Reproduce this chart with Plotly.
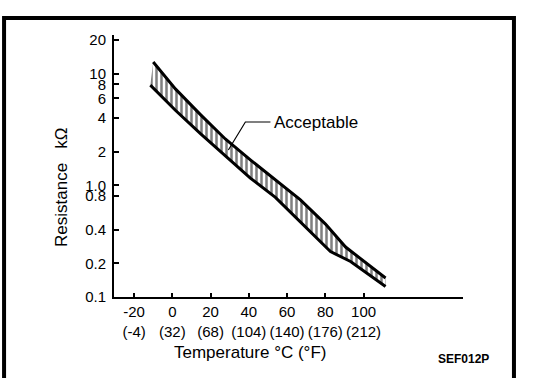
import numpy as np
import plotly.graph_objects as go

# Data
upper_temp = [-10, 1.6, 14.7, 27.7, 40.8, 53.9, 67, 80.1, 90.6, 111.5]
upper_res = [12.7, 7.3, 4.3, 2.6, 1.69, 1.12, 0.74, 0.45, 0.28, 0.148]
lower_temp = [-11.5, 1.6, 14.7, 27.7, 40.8, 53.9, 67, 82.7, 93.2, 111.5]
lower_res = [7.9, 4.7, 2.9, 1.82, 1.16, 0.78, 0.47, 0.255, 0.208, 0.124]

x_tickvals = [-20, 0, 20, 40, 60, 80, 100]
x_ticktext = ["-20<br>(-4)", "0<br>(32)", "20<br>(68)", "40<br>(104)",
              "60<br>(140)", "80<br>(176)", "100<br>(212)"]
y_tickvals = [0.1, 0.2, 0.4, 0.8, 1.0, 2, 4, 6, 8, 10, 20]
y_ticktext = ["0.1", "0.2", "0.4", "0.8", "1.0", "2", "4", "6", "8", "10", "20"]

leader_temp = [29.3, 38.2, 51.3]
leader_res = [2.07, 3.69, 3.69]

FONT = "Liberation Sans, Arial, sans-serif"

fig = go.Figure()
fig.add_trace(go.Scatter(x=lower_temp, y=lower_res, mode="lines",
                         line=dict(color="black", width=3), showlegend=False,
                         hoverinfo="skip"))
fig.add_trace(go.Scatter(x=upper_temp, y=upper_res, mode="lines",
                         line=dict(color="black", width=3), showlegend=False,
                         fill="tonexty", fillcolor="white",
                         fillpattern=dict(shape="|", size=5, solidity=0.5,
                                          fgcolor="black", bgcolor="white"),
                         hoverinfo="skip"))
fig.add_trace(go.Scatter(x=leader_temp, y=leader_res, mode="lines",
                         line=dict(color="black", width=1.2), showlegend=False,
                         hoverinfo="skip"))

fig.add_annotation(x=leader_temp[-1], y=np.log10(leader_res[-1]), xref="x", yref="y",
                   text="Acceptable", showarrow=False, xanchor="left", xshift=2,
                   font=dict(family=FONT, size=17, color="black"))
fig.add_annotation(x=1.0, y=-0.27, xref="paper", yref="paper",
                   text="<b>SEF012P</b>", showarrow=False, xanchor="center",
                   font=dict(family=FONT, size=12, color="black"))
fig.add_annotation(x=0.39, y=-0.21, xref="paper", yref="paper",
                   text="Temperature °C (°F)", showarrow=False, xanchor="center",
                   yanchor="middle", font=dict(family=FONT, size=17, color="black"))
fig.add_annotation(x=-0.149, y=0.42, xref="paper", yref="paper",
                   text="Resistance&nbsp;&nbsp;&nbsp;kΩ", showarrow=False, textangle=-90,
                   xanchor="center", yanchor="middle",
                   font=dict(family=FONT, size=17, color="black"))

# Outer frame
fig.add_shape(type="rect", xref="paper", yref="paper",
              x0=-0.315, x1=1.146, y0=-0.4, y1=1.065,
              line=dict(color="black", width=4), fillcolor="rgba(0,0,0,0)")

fig.update_layout(
    width=560, height=378,
    margin=dict(l=114, r=97, t=35, b=81, autoexpand=False),
    paper_bgcolor="white", plot_bgcolor="white",
    font=dict(family=FONT, size=15, color="black"),
    showlegend=False,
)
fig.update_xaxes(range=[-30.5, 152], tickvals=x_tickvals, ticktext=x_ticktext,
                 tickangle=0, automargin=False,
                 ticks="inside", ticklen=4, tickcolor="black", tickwidth=1.5,
                 showline=True, linecolor="black", linewidth=2,
                 showgrid=False, zeroline=False,
                 tickfont=dict(size=15))
fig.update_yaxes(type="log", range=[-1, 1.346], tickvals=y_tickvals, ticktext=y_ticktext,
                 automargin=False, ticklabelstandoff=3,
                 ticks="inside", ticklen=5, tickcolor="black", tickwidth=1.5,
                 showline=True, linecolor="black", linewidth=2,
                 showgrid=False, zeroline=False,
                 tickfont=dict(size=15))

fig.write_html("out.html", config={"displayModeBar": False},
               post_script="document.body.style.margin='0';document.body.style.overflow='hidden';")
